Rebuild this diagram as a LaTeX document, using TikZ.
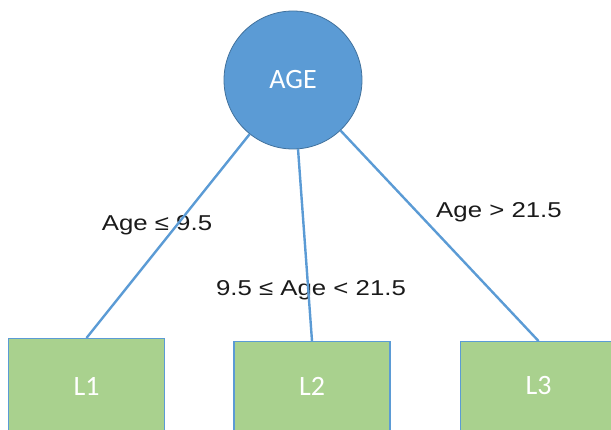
\documentclass[tikz,border=0pt]{standalone}
\usepackage{fontspec}
\setmainfont{Liberation Sans}
\newfontfamily\calfont{Carlito}
\definecolor{nodeblue}{HTML}{5B9BD5}
\definecolor{nodeedge}{HTML}{41719C}
\definecolor{leafgreen}{HTML}{A9D18E}
\definecolor{labelgray}{HTML}{1A1A1A}
\tikzset{
  rootnode/.style={circle, fill=nodeblue, draw=nodeedge, line width=0.8pt, minimum size=138pt, inner sep=0pt, text=white, font=\calfont\fontsize{28}{32}\selectfont},
  leafnode/.style={rectangle, fill=leafgreen, draw=nodeblue, line width=1.4pt, minimum width=156pt, minimum height=100pt, anchor=north, text=white, font=\calfont\fontsize{28}{32}\selectfont},
  branch/.style={draw=nodeblue, line width=2.4pt},
  condlabel/.style={text=labelgray, inner sep=0pt, font=\fontsize{21.5}{24}\selectfont}
}
\newcommand{\widetext}[1]{\scalebox{1.2}[1]{#1}}
\begin{document}
\begin{tikzpicture}[x=1pt,y=1pt]
\useasboundingbox (0,0) rectangle (611,429);
\clip (0,0) rectangle (611,429);
\node[rootnode] (age) at (293,349) {AGE};
\node[leafnode] (l1) at (86.5,91) {};
\node[leafnode] (l2) at (312,88) {};
\node[leafnode] (l3) at (538.5,88) {};
\node[text=white, font=\calfont\fontsize{28}{32}\selectfont] (t1) at (86.5,43) {L1};
\node[text=white, font=\calfont\fontsize{28}{32}\selectfont] (t2) at (312,43) {L2};
\node[text=white, font=\calfont\fontsize{28}{32}\selectfont] (t3) at (538.5,43) {L3};
\node[condlabel] (c1) at (157,204) {\widetext{Age ≤ 9.5}};
\node[condlabel] (c2) at (311,139) {\widetext{9.5 ≤ Age < 21.5}};
\node[condlabel] (c3) at (499,217) {\widetext{Age > 21.5}};
\draw[branch] (age) -- (l1.north);
\draw[branch] (age) -- (l2.north);
\draw[branch] (age) -- (l3.north);
\end{tikzpicture}
\end{document}
